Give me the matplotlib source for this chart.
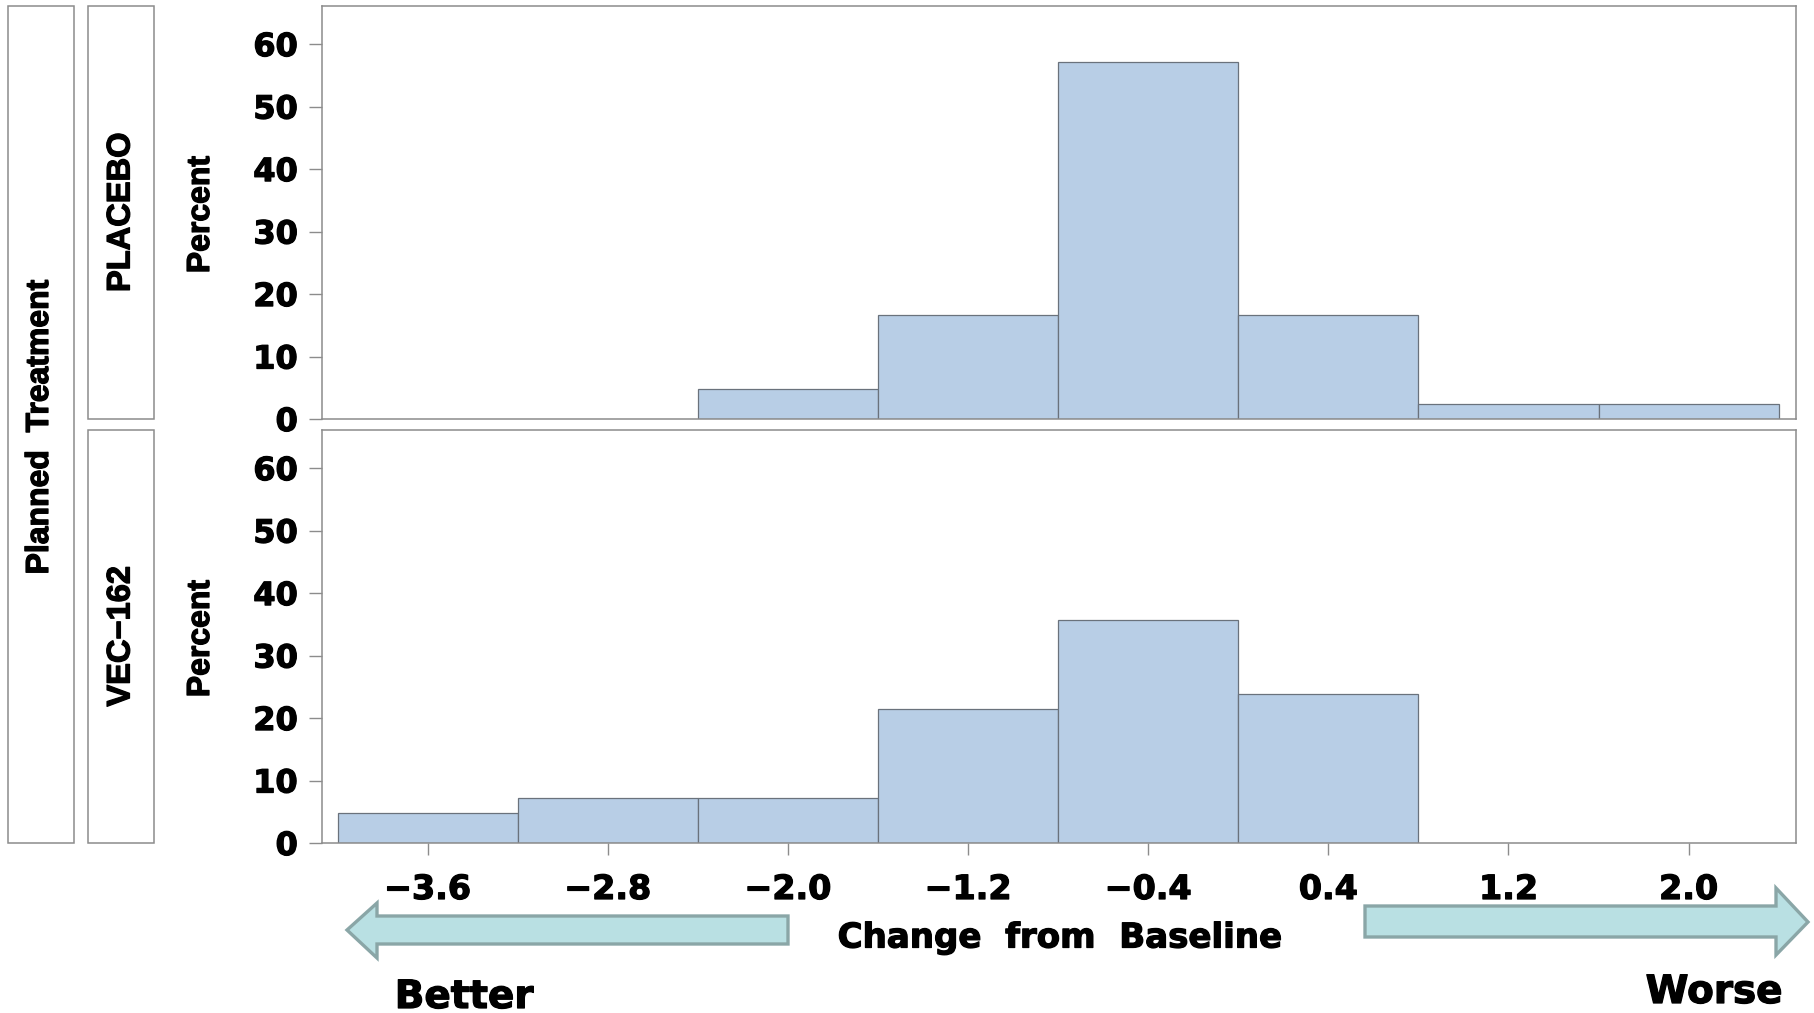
import matplotlib
matplotlib.use("Agg")
import matplotlib.pyplot as plt
import matplotlib.patheffects as pe
from matplotlib.patches import Rectangle, Polygon

# Histogram of change from baseline by planned treatment (bin width 0.8)
bin_midpoints = [-3.6, -2.8, -2.0, -1.2, -0.4, 0.4, 1.2, 2.0]
bin_width = 0.8
placebo_pct = [0.0, 0.0, 4.76, 16.67, 57.14, 16.67, 2.38, 2.38]
vec162_pct = [4.76, 7.14, 7.14, 21.43, 35.71, 23.81, 0.0, 0.0]
panel_names = ["PLACEBO", "VEC\u2212162"]
y_ticks = [0, 10, 20, 30, 40, 50, 60]
x_ticks = [-3.6, -2.8, -2.0, -1.2, -0.4, 0.4, 1.2, 2.0]
x_tick_labels = ["\u22123.6", "\u22122.8", "\u22122.0", "\u22121.2", "\u22120.4", "0.4", "1.2", "2.0"]

W, H = 1814, 1013
plt.rcParams["font.family"] = ["DejaVu Sans"]
plt.rcParams["font.weight"] = "bold"

fig = plt.figure(figsize=(W / 100, H / 100), dpi=100)

BAR_FILL = "#b8cee6"
BAR_EDGE = "#6a727c"
FRAME = "#8c8c8c"
ROT_FONT = ["Liberation Sans", "DejaVu Sans"]
HEAVY = [pe.withStroke(linewidth=0.9, foreground="black")]


def fx(px):
    return px / W


def fy(py):
    return 1 - py / H


left_px, right_px = 322, 1796
panels_px = [(6, 419), (430, 843)]
series = [placebo_pct, vec162_pct]

for i, ((top, bot), values) in enumerate(zip(panels_px, series)):
    ax = fig.add_axes([fx(left_px), fy(bot), fx(right_px - left_px), (bot - top) / H])
    mids = [m for m, v in zip(bin_midpoints, values) if v > 0]
    vals = [v for v in values if v > 0]
    ax.bar(mids, vals, width=bin_width, color=BAR_FILL, edgecolor=BAR_EDGE,
           linewidth=0.9, align="center", zorder=2)
    ax.set_xlim(-4.069, 2.477)
    ax.set_ylim(0, 66.1)
    ax.set_yticks(y_ticks)
    ax.set_yticklabels([str(t) for t in y_ticks], fontsize=23, fontweight="bold")
    ax.tick_params(axis="y", length=9.4, width=1.0, color=FRAME, pad=8)
    for lbl in ax.get_yticklabels():
        lbl.set_path_effects(HEAVY)
    for s in ax.spines.values():
        s.set_color(FRAME)
        s.set_linewidth(1.1)
    if i == 0:
        ax.set_xticks([])
    else:
        ax.set_xticks(x_ticks)
        ax.set_xticklabels(x_tick_labels, fontsize=24, fontweight="bold")
        ax.tick_params(axis="x", length=8.6, width=1.0, color=FRAME, pad=13)
        for lbl in ax.get_xticklabels():
            lbl.set_path_effects(HEAVY)
    # y-axis title
    fig.text(fx(201), fy((top + bot) / 2 + 2), "Percent", rotation=90, ha="center",
             va="center", fontsize=23, fontweight="bold", family=ROT_FONT,
             path_effects=HEAVY)
    # panel strip
    fig.add_artist(Rectangle((fx(88), fy(bot)), fx(154 - 88), (bot - top) / H,
                             transform=fig.transFigure, fill=False,
                             edgecolor=FRAME, linewidth=1.1))
    fig.text(fx(121), fy((top + bot) / 2), panel_names[i], rotation=90,
             ha="center", va="center", fontsize=23.5, fontweight="bold",
             family=ROT_FONT, path_effects=HEAVY)

# outer strip for the grouping variable
fig.add_artist(Rectangle((fx(8), fy(843)), fx(74 - 8), (843 - 6) / H,
                         transform=fig.transFigure, fill=False,
                         edgecolor=FRAME, linewidth=1.1))
fig.text(fx(40), fy(427), "Planned  Treatment", rotation=90, ha="center",
         va="center", fontsize=23, fontweight="bold", family=ROT_FONT,
         path_effects=HEAVY)

fig.text(fx(1060), fy(938), "Change  from  Baseline", ha="center", va="center",
         fontsize=24.5, fontweight="bold", path_effects=HEAVY)

# direction arrows
ARROW_FILL = "#b9e0e3"
ARROW_EDGE = "#8aa6a7"
left_arrow = [(347, 930), (377, 903), (377, 916), (788, 916), (788, 944),
              (377, 944), (377, 958)]
right_arrow = [(1365, 906), (1776, 906), (1776, 888), (1808, 922), (1776, 955),
               (1776, 937), (1365, 937)]
for pts in (left_arrow, right_arrow):
    fig.add_artist(Polygon([(fx(x), fy(y)) for x, y in pts], closed=True,
                           transform=fig.transFigure, facecolor=ARROW_FILL,
                           edgecolor=ARROW_EDGE, linewidth=2.4, joinstyle="miter"))

fig.text(fx(464), fy(997), "Better", ha="center", va="center", fontsize=28,
         fontweight="bold", path_effects=HEAVY)
fig.text(fx(1714), fy(992), "Worse", ha="center", va="center", fontsize=28,
         fontweight="bold", path_effects=HEAVY)

fig.savefig("out.png", dpi=100)
